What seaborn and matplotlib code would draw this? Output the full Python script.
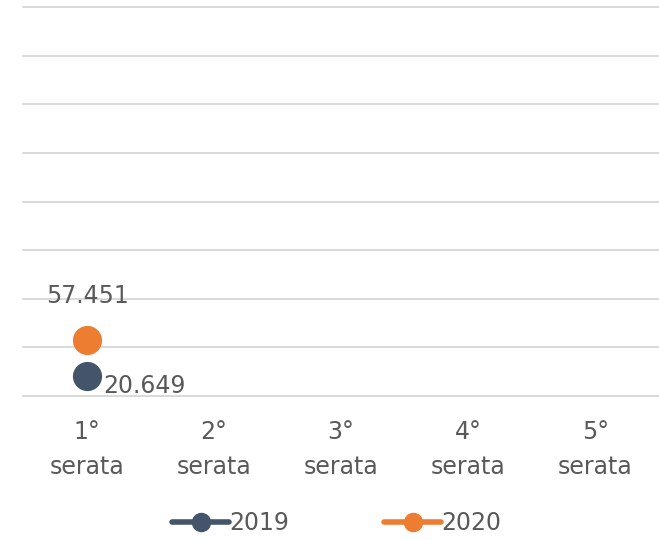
import pandas as pd
import numpy as np
import seaborn as sns
from matplotlib import pyplot as plt
from matplotlib.lines import Line2D

serate = ["1°\nserata", "2°\nserata", "3°\nserata", "4°\nserata", "5°\nserata"]
valori_2019 = [20.649, np.nan, np.nan, np.nan, np.nan]
valori_2020 = [57.451, np.nan, np.nan, np.nan, np.nan]
etichette_2019 = ["20.649", "", "", "", ""]
etichette_2020 = ["57.451", "", "", "", ""]

colori = {"2019": "#44546A", "2020": "#ED7D31"}
grigio = "#595959"

df = pd.DataFrame({
    "Serata": serate * 2,
    "Valore": valori_2019 + valori_2020,
    "Anno": ["2019"] * len(serate) + ["2020"] * len(serate),
})

sns.set_style("white")
plt.rcParams['font.family'] = ['DejaVu Sans']

fig = plt.figure(figsize=(6.59, 5.4), dpi=100)
ax = fig.add_axes([23 / 659, 1 - 396 / 540, 1 - 23 / 659, (396 - 7) / 540])

sns.pointplot(data=df, x="Serata", y="Valore", hue="Anno", order=serate,
              palette=colori, markers="o", markersize=18, linewidth=4,
              errorbar=None, legend=False, ax=ax, zorder=3)

ax.set_ylim(0, 400)
ax.set_yticks(np.arange(0, 401, 50))
ax.yaxis.grid(True, color="#D9D9D9", linewidth=1.4)
for g in ax.get_ygridlines():
    g.set_clip_on(False)
ax.set_axisbelow(True)
for s in ax.spines.values():
    s.set_visible(False)
ax.tick_params(axis="y", left=False, labelleft=False)
ax.tick_params(axis="x", bottom=False, labelsize=17, labelcolor=grigio, pad=14)
for lab in ax.get_xticklabels():
    lab.set_linespacing(1.55)
ax.set_xlabel("")
ax.set_ylabel("")

# etichette dati
for i, (v, t) in enumerate(zip(valori_2020, etichette_2020)):
    if t:
        ax.annotate(t, (i, v), xytext=(1, 32), textcoords="offset points",
                    ha="center", va="center", fontsize=17, color=grigio)
for i, (v, t) in enumerate(zip(valori_2019, etichette_2019)):
    if t:
        ax.annotate(t, (i, v), xytext=(12, -7), textcoords="offset points",
                    ha="left", va="center", fontsize=17, color=grigio)

handles = [Line2D([], [], color=colori[a], lw=4, marker="o", markersize=13,
                  solid_capstyle="round") for a in ["2019", "2020"]]
fig.legend(handles, ["2019", "2020"], loc="center", ncol=2, frameon=False,
           fontsize=17, labelcolor=grigio, handlelength=2.4, handletextpad=0.0,
           columnspacing=4.05, bbox_to_anchor=(0.511, 1 - 523 / 540))

fig.savefig("out.png", dpi=100)
